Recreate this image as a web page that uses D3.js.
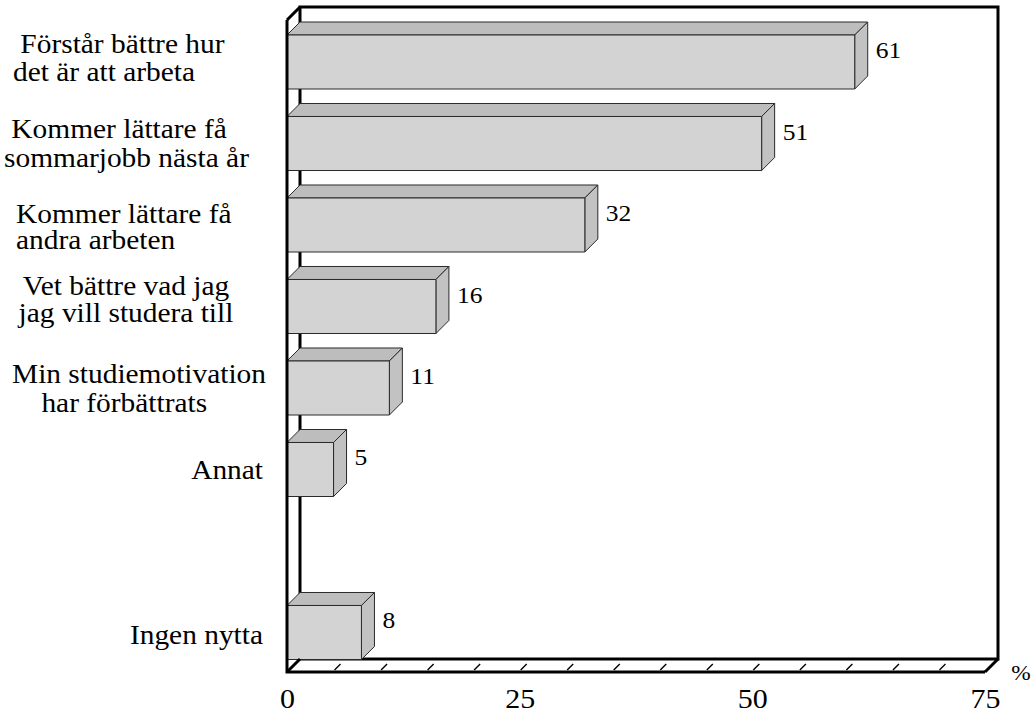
<!DOCTYPE html>
<html>
<head>
<meta charset="utf-8">
<script src="https://cdn.jsdelivr.net/npm/d3@7"></script>
<style>
html, body { margin: 0; padding: 0; background: #ffffff; }
svg { display: block; }
</style>
</head>
<body>
<svg id="chart" width="1033" height="713"></svg>
<script>
// ---------- data ----------
const categories = [
  ["\u00A0Förstår bättre hur", "det är att arbeta"],
  ["\u00A0Kommer lättare få", "sommarjobb nästa år"],
  ["Kommer lättare få", "andra arbeten"],
  ["Vet bättre vad jag", "jag vill studera till"],
  ["Min studiemotivation", "\u00A0\u00A0\u00A0\u00A0har förbättrats"],
  ["Annat"],
  ["Ingen nytta"]
];
const values = [61, 51, 32, 16, 11, 5, 8];
const tickValues = [0, 25, 50, 75];
const unitLabel = "%";
// slot order on the category axis (one empty slot before "Ingen nytta")
const slotOrder = ["0", "1", "2", "3", "4", "5", "gap", "6"];

// ---------- layout (positions / styles, not data) ----------
const labelLayout = [
  { anchor: "start",  x: 13,  dy: -9,    gap: 28 },
  { anchor: "start",  x: 4,   dy: -5.5,  gap: 29 },
  { anchor: "start",  x: 16,  dy: -2.5,  gap: 26.5 },
  { anchor: "middle", x: 126, dy: -11.5, gap: 27 },
  { anchor: "start",  x: 12,  dy: -4.5,  gap: 29 },
  { anchor: "end",    x: 263, dy: 10,    gap: 0 },
  { anchor: "end",    x: 263, dy: 11.5,  gap: 0 }
];
const DEPTH = 13;
const FONT = "'Liberation Serif', 'Times New Roman', serif";
const STRETCH = "scale(1.11,1)";

const svg = d3.select("#chart");

const x = d3.scaleLinear().domain([0, 75]).range([287, 985]);
const y = d3.scaleBand().domain(slotOrder).range([35, 659.5]).paddingInner(0.3374);

const frontTop = 20, floorY = 672;

// ---------- back walls ----------
const back = svg.append("g")
  .attr("fill", "none").attr("stroke", "#000").attr("stroke-width", 3)
  .attr("stroke-linejoin", "miter");
back.append("path")
  .attr("d", `M${x(0) + DEPTH},${floorY - DEPTH} L${x(0) + DEPTH},${frontTop - DEPTH} L${x(75) + DEPTH},${frontTop - DEPTH} L${x(75) + DEPTH},${floorY - DEPTH} Z`);

// floor minor ticks every 5 units
svg.append("g").selectAll("line")
  .data(d3.range(5, 75, 5))
  .join("line")
  .attr("x1", d => x(d) + 1).attr("y1", floorY - 2)
  .attr("x2", d => x(d) + 7).attr("y2", floorY - 8)
  .attr("stroke", "#000").attr("stroke-width", 1.4);

// ---------- bars ----------
const bars = svg.append("g").attr("stroke", "#2a2a2a").attr("stroke-width", 1)
  .attr("stroke-linejoin", "round");

const barData = values.map((v, i) => ({ v, i, key: String(i) }));

barData.forEach(d => {
  const x0 = x(0), x1 = x(d.v);
  const y0 = y(d.key), h = y.bandwidth();
  // top face
  bars.append("path")
    .attr("fill", "#bdbdbd")
    .attr("d", `M${x0},${y0} L${x0 + DEPTH},${y0 - DEPTH} L${x1 + DEPTH},${y0 - DEPTH} L${x1},${y0} Z`);
  // side face
  bars.append("path")
    .attr("fill", "#c2c2c2")
    .attr("d", `M${x1},${y0} L${x1 + DEPTH},${y0 - DEPTH} L${x1 + DEPTH},${y0 + h - DEPTH} L${x1},${y0 + h} Z`);
  // front face
  bars.append("rect")
    .attr("fill", "#d3d3d3")
    .attr("x", x0).attr("y", y0).attr("width", x1 - x0).attr("height", h);
});

// value labels
svg.append("g").selectAll("text")
  .data(barData)
  .join("text")
  .attr("transform", d => `translate(${x(d.v) + DEPTH + 8},${y(d.key) + y.bandwidth() / 2 - 4}) ${STRETCH}`)
  .attr("font-family", FONT).attr("font-size", 23).attr("fill", "#000")
  .text(d => d.v);

// ---------- front frame ----------
const front = svg.append("g")
  .attr("fill", "none").attr("stroke", "#000").attr("stroke-width", 3)
  .attr("stroke-linejoin", "miter");
front.append("path")
  .attr("d", `M${x(0)},${frontTop} L${x(0)},${floorY} L${x(75)},${floorY}`);
front.append("path").attr("d", `M${x(0)},${frontTop} L${x(0) + DEPTH},${frontTop - DEPTH}`);
front.append("path").attr("d", `M${x(0)},${floorY} L${x(0) + DEPTH},${floorY - DEPTH}`);
front.append("path").attr("d", `M${x(75)},${floorY} L${x(75) + DEPTH},${floorY - DEPTH}`);

// ---------- x axis labels ----------
const axis = svg.append("g")
  .attr("transform", `translate(0,${floorY})`)
  .call(d3.axisBottom(x).tickValues(tickValues).tickSize(0).tickFormat(d3.format("d")));
axis.select(".domain").remove();
axis.selectAll("text")
  .attr("y", 36).attr("dy", 0)
  .attr("transform", STRETCH)
  .attr("font-family", FONT).attr("font-size", 27).attr("fill", "#000");

svg.append("text")
  .attr("transform", `translate(1021,680) ${STRETCH}`)
  .attr("text-anchor", "middle")
  .attr("font-family", FONT).attr("font-size", 21).attr("fill", "#000")
  .text(unitLabel);

// ---------- category labels ----------
const labels = svg.append("g").attr("font-family", FONT).attr("font-size", 26.5).attr("fill", "#000");
categories.forEach((lines, i) => {
  const L = labelLayout[i];
  const cy = y(String(i)) + y.bandwidth() / 2;
  lines.forEach((line, j) => {
    labels.append("text")
      .attr("transform", `translate(${L.x},${cy + L.dy + j * L.gap}) ${STRETCH}`)
      .attr("text-anchor", L.anchor)
      .text(line);
  });
});
</script>
</body>
</html>
